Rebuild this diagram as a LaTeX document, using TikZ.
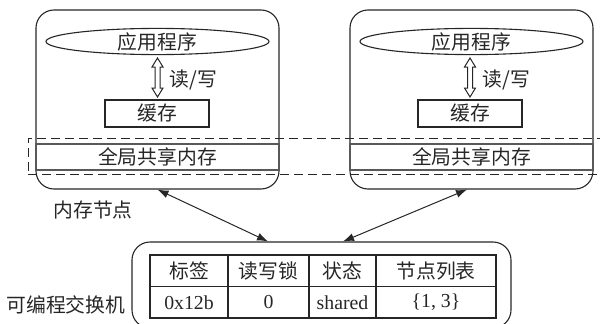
\documentclass[tikz,border=0pt]{standalone}
\usepackage{fontspec}
\setmainfont{Noto Sans CJK SC}
\newfontfamily\lat{Liberation Serif}
\usetikzlibrary{arrows.meta,calc,shapes.geometric}
\begin{document}
\begin{tikzpicture}[x=1pt,y=-1pt,
  font=\fontsize{19.8}{22}\selectfont,
  every node/.style={text=black!85, inner sep=0pt},
  linecol/.style={draw=black!85, line width=1.1pt},
  memnode/.style={linecol, rounded corners=18pt, minimum width=243pt, minimum height=179pt},
  app/.style={linecol, ellipse, minimum width=223pt, minimum height=23pt},
  cache/.style={linecol, minimum width=104pt, minimum height=27pt},
  shm/.style={draw=black!65, line width=1.5pt, minimum width=243pt, minimum height=26pt},
  dashbox/.style={draw=black!85, line width=1pt, dash pattern=on 9pt off 5pt, minimum width=600pt, minimum height=36pt},
  switchbox/.style={linecol, rounded corners=18pt, minimum width=379pt, minimum height=86pt},
  cell/.style={linecol, minimum height=31.5pt},
  biarrow/.style={draw=black!85, line width=1pt, {Latex[length=11pt,width=8pt]}-{Latex[length=11pt,width=8pt]}},
  rwarrow/.pic={\draw[draw=black!85, line width=1pt, fill=white]
    (0,-19.5) -- (5.5,-10.5) -- (2.5,-10.5) -- (2.5,10.5) -- (5.5,10.5) -- (0,19.5)
    -- (-5.5,10.5) -- (-2.5,10.5) -- (-2.5,-10.5) -- (-5.5,-10.5) -- cycle;}
]
\useasboundingbox (0,0) rectangle (600,324);
\clip (0,0) rectangle (600,324);

% memory nodes
\node[memnode] (lmem) at (157.5,99.5) {};
\node[memnode] (rmem) at (471.5,99.5) {};

\node[app] (lapp) at (157.5,41.5) {应用程序};
\node[app] (rapp) at (471.5,41.5) {应用程序};

\pic at (157.5,77.5) {rwarrow};
\pic at (470,77.5) {rwarrow};
\node (lrw) at (193.5,80) {读/写};
\node (rrw) at (506.5,80) {读/写};

\node[cache] (lcache) at (157,113.5) {缓存};
\node[cache] (rcache) at (470,113.5) {缓存};

\node[shm] (lshm) at (157.5,157) {全局共享内存};
\node[shm] (rshm) at (471.5,157) {全局共享内存};

\node[dashbox] (gmem) at (328,156) {};

\node (memlabel) at (93,210) {内存节点};

% switch
\node[switchbox] (sw) at (321.5,285) {};
\node (swlabel) at (66,305) {可编程交换机};

\node[cell, minimum width=78pt] (h1) at (189,270.75) {标签};
\node[cell, minimum width=81pt] (h2) at (268.5,270.75) {读写锁};
\node[cell, minimum width=67pt] (h3) at (342.5,270.75) {状态};
\node[cell, minimum width=120pt] (h4) at (436,270.75) {节点列表};
\node[cell, minimum width=78pt] (v1) at (189,302.25) {\lat 0x12b};
\node[cell, minimum width=81pt] (v2) at (268.5,302.25) {\lat 0};
\node[cell, minimum width=67pt] (v3) at (342.5,302.25) {\lat shared};
\node[cell, minimum width=120pt] (v4) at (436,302.25) {\lat \{1, 3\}};

% connectors
\draw[biarrow] (lmem.south) -- ($(sw.north)+(-53.5,0)$);
\draw[biarrow] ($(rmem.south)+(-4.5,0)$) -- ($(sw.north)+(21.5,0)$);
\end{tikzpicture}
\end{document}
